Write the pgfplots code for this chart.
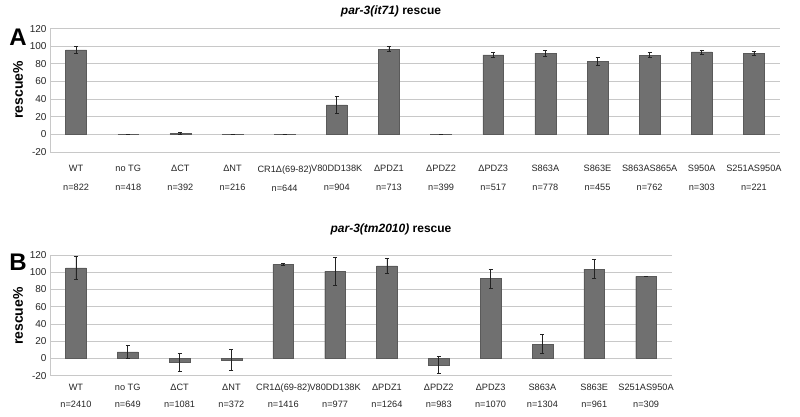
\documentclass[border=0pt]{standalone}
\usepackage{pgfplots}
\pgfplotsset{compat=1.18}
\usepackage{pgfplotstable}
\usepackage{fontspec}
\setmainfont{Liberation Sans}
\definecolor{barg}{RGB}{112,112,112}
\definecolor{gridg}{RGB}{200,200,200}
\definecolor{errc}{RGB}{35,35,35}

\pgfplotstableread{
x y e
0 96 3.8
1 0.4 0
2 1 1.2
3 0.4 0
4 0.4 0
5 33.6 9.8
6 96.6 2.8
7 0.4 0
8 90.2 3
9 92 3.8
10 82.6 4.7
11 90 3
12 93.6 2.3
13 92 2
}\dataA

\pgfplotstableread{
x y e
0 105 13.3
1 7.7 8
2 -4.6 10
3 -2 12
4 109 1
5 101 16
6 107.5 8.3
7 -7.3 9.7
8 92.8 11
9 16.6 10.8
10 103.7 11
11 95.2 0
}\dataB

\pgfplotsset{
  panel/.style={
    scale only axis,
    ymin=-20, ymax=120,
    ytick={-20,0,...,120},
    ymajorgrids,
    grid style={gridg, line width=0.9pt},
    axis x line*=bottom,
    axis y line*=left,
    axis line style={gridg, line width=0.9pt},
    x axis line style={draw=none},
    xtick=data,
    major tick length=0pt,
    yticklabel style={font=\fontsize{10}{12}\selectfont, text=black!85},
    /pgf/number format/assume math mode=true,
    ybar,
    bar width=0.4,
    enlarge x limits=false,
  },
  bars/.style={
    fill=barg, draw=barg!80!black, line width=0.3pt,
    error bars/.cd, y dir=both, y explicit,
    error bar style={errc, line width=0.8pt},
    error mark options={rotate=90, errc, mark size=2pt, line width=0.8pt},
  }
}

\begin{document}
\begin{tikzpicture}
\path[use as bounding box] (0pt,0pt) rectangle (800pt,416pt);

\begin{axis}[panel,
  at={(50pt,264pt)}, anchor=south west,
  width=730pt, height=123.3pt,
  xmin=-0.5, xmax=13.5,
  xticklabel style={align=center, yshift=-10pt, font=\fontsize{9.2}{19}\selectfont, text=black!85},
  xticklabels={{WT\\n=822},{no TG\\n=418},{ΔCT\\n=392},{ΔNT\\n=216},{CR1Δ(69-82)\\n=644},{V80DD138K\\n=904},{ΔPDZ1\\n=713},{ΔPDZ2\\n=399},{ΔPDZ3\\n=517},{S863A\\n=778},{S863E\\n=455},{S863AS865A\\n=762},{S950A\\n=303},{S251AS950A\\n=221}},
]
\addplot[bars] table[x=x, y=y, y error=e] {\dataA};
\end{axis}

\begin{axis}[panel,
  at={(50pt,40.3pt)}, anchor=south west,
  width=622pt, height=120.7pt,
  xmin=-0.5, xmax=11.5,
  xticklabel style={align=center, yshift=-5pt, font=\fontsize{9.2}{16.5}\selectfont, text=black!85},
  xticklabels={{WT\\n=2410},{no TG\\n=649},{ΔCT\\n=1081},{ΔNT\\n=372},{CR1Δ(69-82)\\n=1416},{V80DD138K\\n=977},{ΔPDZ1\\n=1264},{ΔPDZ2\\n=983},{ΔPDZ3\\n=1070},{S863A\\n=1304},{S863E\\n=961},{S251AS950A\\n=309}},
]
\addplot[bars] table[x=x, y=y, y error=e] {\dataB};
\end{axis}

\node[font=\fontsize{12}{14}\selectfont\bfseries] at (391pt,405pt) {\textit{par-3(it71)} rescue};
\node[font=\fontsize{12}{14}\selectfont\bfseries] at (391pt,187pt) {\textit{par-3(tm2010)} rescue};
\node[font=\fontsize{24}{28}\selectfont\bfseries] at (18pt,379pt) {A};
\node[font=\fontsize{24}{28}\selectfont\bfseries] at (18pt,154pt) {B};
\node[rotate=90, font=\fontsize{14}{16}\selectfont\bfseries] at (18pt,326pt) {rescue\%};
\node[rotate=90, font=\fontsize{14}{16}\selectfont\bfseries] at (18pt,100pt) {rescue\%};
\end{tikzpicture}
\end{document}
